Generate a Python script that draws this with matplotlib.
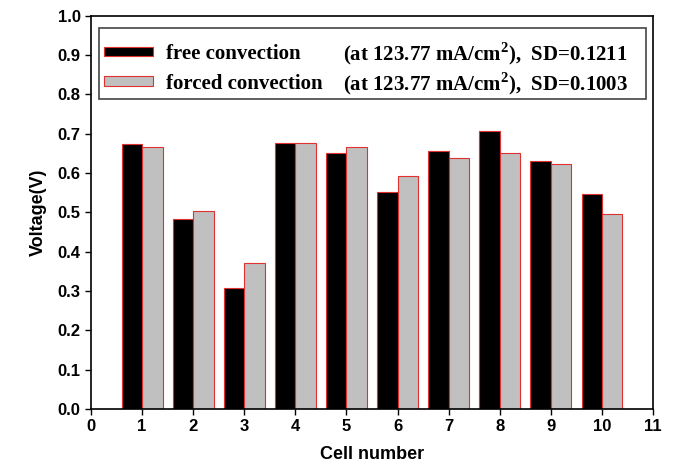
import numpy as np
import matplotlib
matplotlib.use("Agg")
import matplotlib.pyplot as plt
from matplotlib.patches import Rectangle

# cell voltages at 123.77 mA/cm2
cells = [1, 2, 3, 4, 5, 6, 7, 8, 9, 10]
free_conv = [0.673, 0.483, 0.307, 0.676, 0.651, 0.552, 0.656, 0.707, 0.631, 0.548]
forced_conv = [0.667, 0.503, 0.372, 0.676, 0.667, 0.592, 0.639, 0.652, 0.622, 0.496]
sd_free = 0.1211
sd_forced = 0.1003

plt.rcParams['mathtext.fontset'] = 'custom'
plt.rcParams['mathtext.rm'] = 'Liberation Serif:bold'
plt.rcParams['mathtext.bf'] = 'Liberation Serif:bold'

fig = plt.figure(figsize=(6.74, 4.72), dpi=100)
ax = fig.add_axes([0.135, 0.1335, 0.834, 0.833])

x = np.array(cells)
w = 0.4
b1 = ax.bar(x - w / 2, free_conv, w, color='black', edgecolor='#e03030', linewidth=0.8)
b2 = ax.bar(x + w / 2, forced_conv, w, color='#c0c0c0', edgecolor='#e03030', linewidth=0.8)

ax.set_xlim(0, 11)
ax.set_ylim(0, 1.0)
ax.set_xticks(range(0, 12))
ax.set_yticks(np.arange(0, 1.01, 0.1))
ax.set_yticklabels(['%.1f' % v for v in np.arange(0, 1.01, 0.1)])
ax.tick_params(direction='out', length=4, width=1, labelsize=12)
for lab in ax.get_xticklabels() + ax.get_yticklabels():
    lab.set_family('Liberation Sans')
    lab.set_fontweight('bold')
for s in ax.spines.values():
    s.set_linewidth(1.2)

ax.set_xlabel('Cell number', fontsize=13, fontweight='bold', family='Liberation Sans', labelpad=8)
ax.set_ylabel('Voltage(V)', fontsize=13, fontweight='bold', family='Liberation Sans', labelpad=8)

# legend box drawn by hand so it can be taller than the entries need
box = Rectangle((0.014, 0.788), 0.9735, 0.181, transform=ax.transAxes,
                facecolor='white', edgecolor='#444444', linewidth=1.2, zorder=5)
ax.add_patch(box)

leg = ax.legend([b1, b2], ['free convection', 'forced convection'],
                loc='upper left', bbox_to_anchor=(0.023, 0.929),
                frameon=False,
                prop={'family': 'Liberation Serif', 'weight': 'bold', 'size': 15},
                handlelength=2.36, handleheight=0.29, handletextpad=0.63,
                borderaxespad=0, labelspacing=0.47, borderpad=0)
leg.set_zorder(6)

# current density and standard deviation columns, lined up with the legend rows
fig.canvas.draw()
extra = [r'(at 123.77 mA/cm$^2$),  SD=%.4f' % sd_free,
         r'(at 123.77 mA/cm$^2$),  SD=%.4f' % sd_forced]
inv = ax.transAxes.inverted()
for t, lt in zip(extra, leg.get_texts()):
    bb = lt.get_window_extent()
    yy = inv.transform((0, (bb.y0 + bb.y1) / 2))[1]
    ax.text(0.448, yy, t, transform=ax.transAxes, ha='left', va='center',
            family='Liberation Serif', fontweight='bold', fontsize=15, zorder=10)

fig.savefig('out.png', dpi=100)
